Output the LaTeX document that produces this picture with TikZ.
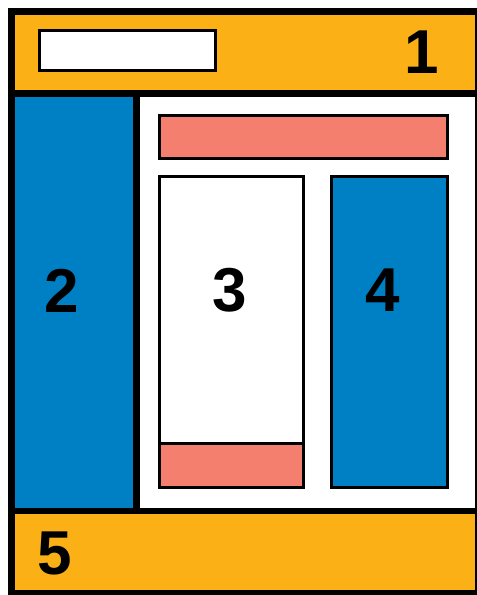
\documentclass[tikz,border=0pt]{standalone}
\usepackage{fontspec}
\setmainfont{Liberation Sans}
\definecolor{hdr}{HTML}{FBB116}
\definecolor{blu}{HTML}{0080C4}
\definecolor{sal}{HTML}{F47F6E}
\begin{document}
\begin{tikzpicture}[x=1pt,y=-1pt,
  inner/.style={draw=black,line width=2.6pt},
  num/.style={inner sep=0pt,font=\fontsize{62}{62}\selectfont\bfseries},
  thick line/.style={line width=7pt}]
\useasboundingbox (0,0) rectangle (477,595);
\begin{scope}
\clip (0,0) rectangle (477,595);
% fills
\fill[hdr] (11.5,11.5) rectangle (478,93.5);
\fill[hdr] (11.5,511) rectangle (478,594);
\fill[blu] (11.5,93.5) rectangle (136.5,511);
\fill[white] (136.5,93.5) rectangle (478,511);
% header box
\draw[inner,fill=white] (39.5,30.5) rectangle (215.5,70.5);
% content boxes
\draw[inner,fill=sal] (159.5,115.5) rectangle (447.5,158.5);
\draw[inner,fill=white] (159.5,176.5) rectangle (303.5,487.5);
\draw[inner,fill=sal] (159.5,443.5) rectangle (303.5,487.5);
\draw[inner,fill=blu] (331.5,176.5) rectangle (447.5,487.5);
% separators
\draw[line width=6.5pt] (11.5,93.5) -- (478,93.5);
\draw[line width=6pt] (11.5,511) -- (478,511);
\draw[line width=6.5pt] (136.5,93.5) -- (136.5,511);
% outer frame
\draw[thick line] (11.5,11.5) rectangle (478,593.5);
\end{scope}
% labels
\node[num] (n1) at (422,52.5) {1};
\node[num] (n2) at (61.5,290.5) {2};
\node[num] (n3) at (229.5,290.5) {3};
\node[num] (n4) at (382.5,290.5) {4};
\node[num] (n5) at (55,553) {5};
\end{tikzpicture}
\end{document}
